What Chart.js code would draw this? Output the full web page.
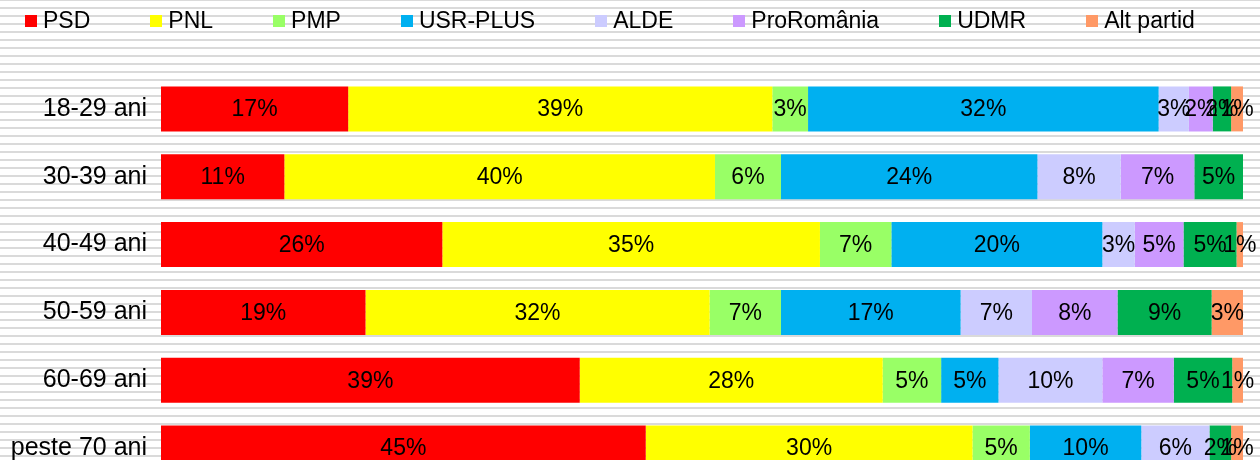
<!DOCTYPE html>
<html>
<head>
<meta charset="utf-8">
<script src="https://cdn.jsdelivr.net/npm/chart.js@4/dist/chart.umd.min.js"></script>
<style>
  html, body { margin: 0; padding: 0; width: 1260px; height: 460px; overflow: hidden; }
  body {
    background: repeating-linear-gradient(to bottom, #dadada 0px, #dadada 1.3px, #ffffff 1.3px, #ffffff 7.3px, #dadada 7.3px, #dadada 8px);
    font-family: "Liberation Sans", Arial, sans-serif;
    position: relative;
  }
  #c { position: absolute; left: 0; top: 0; width: 1260px; height: 511px; }
  #legend {
    position: absolute; left: 25px; top: 9px; height: 23px;
    display: flex; align-items: center; z-index: 2;
    font-size: 23px; line-height: 23px; color: #000; white-space: nowrap;
  }
  #legend .item { display: flex; align-items: center; margin-right: 60px; }
  #legend .box { width: 12px; height: 12px; margin-right: 6px; margin-top: 1px; }
</style>
</head>
<body>
<div id="legend"></div>
<canvas id="c" width="1260" height="511"></canvas>
<script>
// Categories (age groups)
const categories = ['18-29 ani', '30-39 ani', '40-49 ani', '50-59 ani', '60-69 ani', 'peste 70 ani'];

// Series values (% of each age group)
const psd  = [17.3, 11.4, 26.0, 18.9, 38.7, 44.8];
const pnl  = [39.2, 39.8, 34.9, 31.8, 28.0, 30.2];
const pmp  = [3.3, 6.1, 6.6, 6.6, 5.4, 5.3];
const usr  = [32.4, 23.7, 19.5, 16.6, 5.3, 10.3];
const alde = [2.8, 7.7, 3.0, 6.6, 9.6, 6.3];
const pro  = [2.2, 6.8, 4.5, 7.9, 6.6, 0];
const udmr = [1.7, 4.5, 4.9, 8.7, 5.4, 2.0];
const alt  = [1.1, 0, 0.6, 2.9, 1.0, 1.1];

const seriesNames = ['PSD', 'PNL', 'PMP', 'USR-PLUS', 'ALDE', 'ProRomânia', 'UDMR', 'Alt partid'];
const seriesData = [psd, pnl, pmp, usr, alde, pro, udmr, alt];
const seriesColors = ['#ff0000', '#ffff00', '#99ff66', '#00b0f0', '#ccccff', '#cc99ff', '#00b050', '#ff9966'];

const FONT = '"Liberation Sans", Arial, sans-serif';

// HTML legend built from the series
const legendEl = document.getElementById('legend');
seriesNames.forEach((name, i) => {
  const item = document.createElement('span');
  item.className = 'item';
  const box = document.createElement('span');
  box.className = 'box';
  box.style.background = seriesColors[i];
  const txt = document.createElement('span');
  txt.textContent = name;
  item.appendChild(box);
  item.appendChild(txt);
  legendEl.appendChild(item);
});

const barLabels = {
  id: 'barLabels',
  afterDatasetsDraw(chart) {
    const ctx = chart.ctx;
    ctx.save();
    ctx.font = '23px ' + FONT;
    ctx.fillStyle = '#000';
    ctx.textAlign = 'center';
    ctx.textBaseline = 'middle';
    chart.data.datasets.forEach((ds, i) => {
      const meta = chart.getDatasetMeta(i);
      meta.data.forEach((bar, j) => {
        const v = ds.data[j];
        if (!v) return;
        const p = bar.getProps(['x', 'y', 'base'], true);
        ctx.fillText(Math.round(v) + '%', (p.x + p.base) / 2, p.y + 1);
      });
    });
    ctx.restore();
  }
};

new Chart(document.getElementById('c'), {
  type: 'bar',
  data: {
    labels: categories,
    datasets: seriesNames.map((name, i) => ({
      label: name,
      data: seriesData[i],
      backgroundColor: seriesColors[i],
      borderWidth: 0,
      categoryPercentage: 1,
      barPercentage: 0.663
    }))
  },
  options: {
    indexAxis: 'y',
    responsive: false,
    animation: false,
    devicePixelRatio: 1,
    layout: { padding: { top: 75, right: 17, bottom: 0, left: 0 } },
    plugins: {
      legend: { display: false },
      tooltip: { enabled: false }
    },
    scales: {
      x: { stacked: true, min: 0, max: 100, display: false },
      y: {
        stacked: true,
        grid: { display: false, drawTicks: false },
        border: { display: false },
        ticks: { color: '#000', font: { family: FONT, size: 25 }, padding: 14 },
        afterFit(scale) { scale.width = 161; }
      }
    }
  },
  plugins: [barLabels]
});
</script>
</body>
</html>
